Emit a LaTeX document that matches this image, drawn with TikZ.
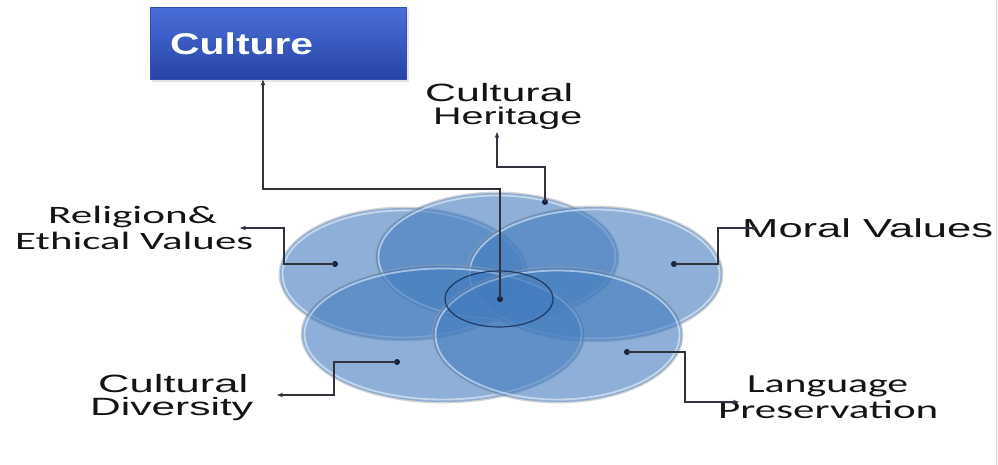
\documentclass[tikz,border=0pt]{standalone}
\usepackage{fontspec}
\setmainfont{Liberation Sans}
\newfontfamily\calfont{Carlito}
\usepackage{graphicx}
\usetikzlibrary{arrows.meta}
\definecolor{vblue}{RGB}{68,124,190}
\definecolor{boxtop}{RGB}{74,110,216}
\definecolor{boxbot}{RGB}{38,68,166}
\definecolor{lnk}{RGB}{50,50,62}
\definecolor{dotc}{RGB}{18,32,68}
\definecolor{ringc}{RGB}{22,45,85}
\newcommand{\fitw}[3]{\resizebox{#1pt}{\height}{\fontsize{#2pt}{#2pt}\selectfont #3}}
\newcommand{\vennell}[4]{%
  \draw[gray!75, opacity=0.45, line width=1.6pt] (#1,#2) ellipse [x radius=#3pt+0.6pt, y radius=#4pt+0.6pt];
  \fill[vblue, opacity=0.6] (#1,#2) ellipse [x radius=#3pt, y radius=#4pt];
  \draw[white, opacity=0.5, line width=1.8pt] (#1,#2) ellipse [x radius=#3pt-2.5pt, y radius=#4pt-2.5pt];
}
\tikzset{
  lbl/.style={anchor=base west, inner sep=0pt, text=black!92},
  link/.style={draw=lnk, line width=1.2pt},
  linkarrow/.style={link, -{Stealth[length=6pt,width=4.5pt]}},
  vdot/.style={circle, fill=dotc, inner sep=0pt, minimum size=6pt},
  culturebox/.style={rectangle, top color=boxtop, bottom color=boxbot, draw={rgb,255:red,50;green,80;blue,175}, line width=0.6pt, inner sep=0pt}
}
\begin{document}
\begin{tikzpicture}[x=1pt,y=-1pt]
\useasboundingbox (0,0) rectangle (998,465);
\fill[white] (0,0) rectangle (998,465);
\fill[gray!5] (996,0) rectangle (998,465);
\draw[gray!35, line width=0.8pt] (996,0) -- (996,465);

% Culture box
\fill[gray!40, opacity=0.5] (152,9) rectangle (409,82);
\node[culturebox, minimum width=256pt, minimum height=72pt, anchor=north west] (culture) at (150,7) {};
\node[lbl, text=white] (culturetext) at (170,55) {\fitw{143}{30}{\bfseries Culture}};

% Venn ellipses
\vennell{403.5}{274}{123.5}{66}
\vennell{497}{257}{121}{64}
\vennell{594.5}{274}{127.5}{67}
\vennell{443}{334}{141}{68}
\vennell{557.5}{335}{124.5}{67}
\fill[vblue, opacity=0.35] (499,299) ellipse [x radius=54pt, y radius=28pt];
\draw[ringc, line width=1.2pt, opacity=0.85] (499,299) ellipse [x radius=54pt, y radius=28pt];

% Labels
\node[lbl] (ch1) at (425,102) {\fitw{148}{25}{Cultural}};
\node[lbl] (ch2) at (433,125) {\fitw{149}{24}{Heritage}};
\node[lbl] (re1) at (48,223) {\fitw{169}{25}{\calfont Religion\&}};
\node[lbl] (re2) at (15,249) {\fitw{238}{25}{\calfont Ethical Values}};
\node[lbl] (mv) at (742,237) {\fitw{251}{26}{Moral Values}};
\node[lbl] (cd1) at (98,392) {\fitw{150}{25}{Cultural}};
\node[lbl] (cd2) at (90,415) {\fitw{163}{25}{Diversity}};
\node[lbl] (lp1) at (747,392) {\fitw{161}{26}{\calfont Language}};
\node[lbl] (lp2) at (718,418) {\fitw{220}{26}{\calfont Preservation}};

% Dots
\node[vdot] (dC) at (500,299) {};
\node[vdot] (dH) at (545,202) {};
\node[vdot] (dR) at (335,264) {};
\node[vdot] (dM) at (674,264) {};
\node[vdot] (dD) at (397,362) {};
\node[vdot] (dL) at (627,352) {};

% Bend points and tips
\coordinate (cBend) at (263,189);
\coordinate (hBend) at (497,167);
\coordinate (hTip) at (497,132);
\coordinate (rBend) at (284,228);
\coordinate (rTip) at (240,228);
\coordinate (mBend) at (718,228);
\coordinate (mTip) at (758,228);
\coordinate (dBend) at (334,395);
\coordinate (dTip) at (277,395);
\coordinate (lBend) at (685,402);
\coordinate (lTip) at (739,402);

% Connectors
\draw[linkarrow] (dC.center) |- (cBend) -- (cBend |- culture.south);
\draw[linkarrow] (dH.center) |- (hBend) -- (hTip);
\draw[linkarrow] (dR.center) -| (rBend) -- (rTip);
\draw[linkarrow] (dM.center) -| (mBend) -- (mTip);
\draw[linkarrow] (dD.center) -| (dBend) -- (dTip);
\draw[linkarrow] (dL.center) -| (lBend) -- (lTip);
\end{tikzpicture}
\end{document}
